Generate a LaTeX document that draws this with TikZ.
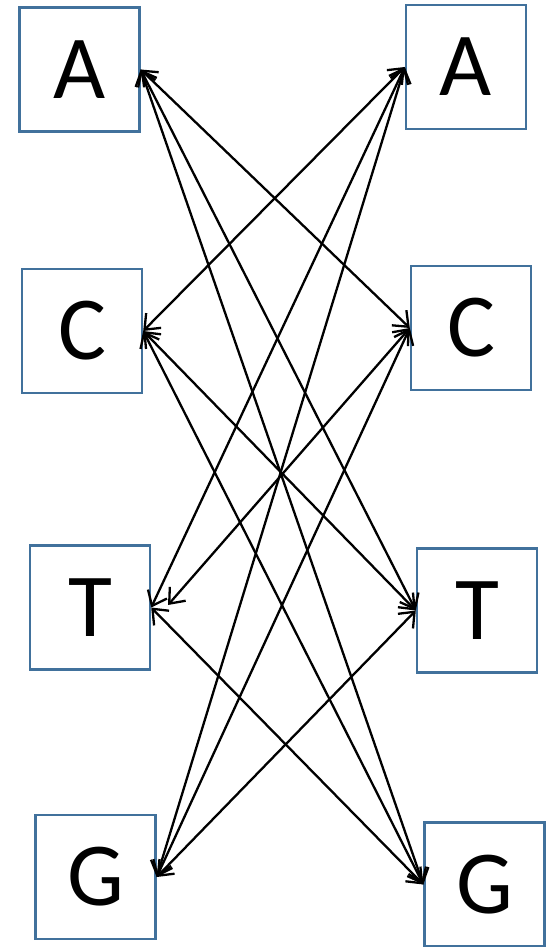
\documentclass[tikz,border=0pt]{standalone}
\usepackage{fontspec}
\setmainfont{Carlito}
\usetikzlibrary{arrows.meta}
\definecolor{boxblue}{HTML}{41719C}
\begin{document}
\begin{tikzpicture}[x=1pt,y=-1pt,
  letter/.style={draw=boxblue,line width=2.4pt,minimum width=120pt,minimum height=124pt,inner sep=0pt,font=\fontsize{90}{90}\selectfont,text=black},
  link/.style={line width=2.3pt,{Straight Barb[length=13pt,width=21pt,line width=2.3pt]}-{Straight Barb[length=13pt,width=21pt,line width=2.3pt]}}]
\useasboundingbox (0,0) rectangle (549,947);
\node[letter] (LA) at (79.5,69.5) {\raisebox{-3pt}{A}};
\node[letter] (LC) at (82,331) {\raisebox{-3pt}{C}};
\node[letter] (LT) at (90,607.5) {\raisebox{-3pt}{T}};
\node[letter] (LG) at (95.5,877) {\raisebox{-3pt}{G}};
\node[letter] (RA) at (466,67) {\raisebox{-3pt}{A}};
\node[letter] (RC) at (471,328) {\raisebox{-3pt}{C}};
\node[letter] (RT) at (477,610.5) {\raisebox{-3pt}{T}};
\node[letter] (RG) at (484.5,884.5) {\raisebox{-3pt}{G}};
\coordinate (LTx) at (168,605);
% left A
\draw[link] (LA.east) -- (RC.west);
\draw[link] (LA.east) -- (RT.west);
\draw[link] (LA.east) -- (RG.west);
% right A
\draw[link] (RA.west) -- (LC.east);
\draw[link] (RA.west) -- (LT.east);
\draw[link] (RA.west) -- (LG.east);
% left C
\draw[link] (LC.east) -- (RT.west);
\draw[link] (LC.east) -- (RG.west);
% right C
\draw[link] (RC.west) -- (LTx);
\draw[link] (RC.west) -- (LG.east);
% T
\draw[link] (LT.east) -- (RG.west);
\draw[link] (RT.west) -- (LG.east);
\end{tikzpicture}
\end{document}
